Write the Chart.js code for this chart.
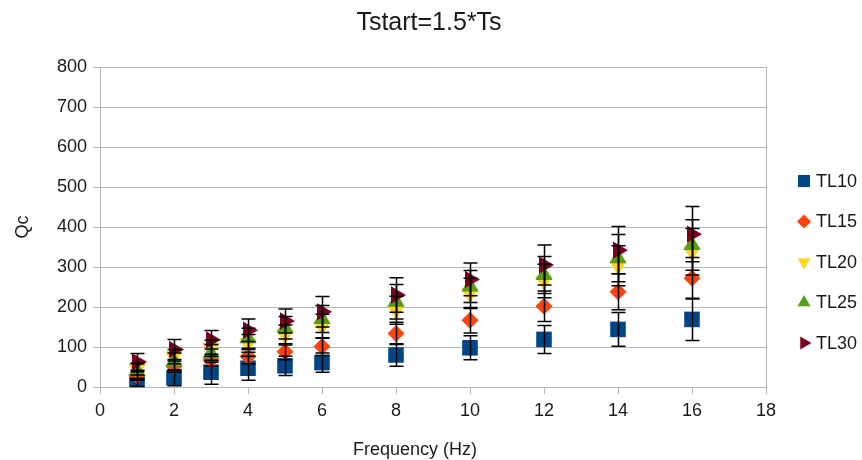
<!DOCTYPE html>
<html>
<head>
<meta charset="utf-8">
<script src="https://cdn.jsdelivr.net/npm/chart.js@4.4.1/dist/chart.umd.min.js"></script>
<style>
  html, body { margin: 0; padding: 0; background: #fff; }
  #wrap { width: 862px; height: 460px; }
</style>
</head>
<body>
<div id="wrap"><canvas id="qcChart" width="862" height="460"></canvas></div>
<script>
const freq = [1, 2, 3, 4, 5, 6, 8, 10, 12, 14, 16];

const tl10 = [9, 23, 37, 47, 53, 61, 80, 98, 119, 144, 169];
const tl15 = [28, 51, 67, 76, 88, 101, 134, 167, 202, 238, 272];
const tl20 = [45, 76, 97, 109, 130, 152, 192, 234, 265, 303, 338];
const tl25 = [40, 63, 84, 122, 148, 170, 213, 251, 280, 322, 355];
const tl30 = [63, 94, 118, 142, 165, 188, 230, 269, 305, 342, 382];

// +/- error for each point
const tl10Err = [8, 20, 30, 30, 24, 24, 28, 30, 35, 42, 53];
const tl15Err = [10, 14, 15, 18, 20, 22, 28, 32, 38, 45, 52];
const tl20Err = [15, 18, 20, 22, 25, 30, 35, 38, 42, 50, 58];
const tl25Err = [18, 22, 22, 25, 28, 34, 43, 40, 46, 59, 63];
const tl30Err = [21, 25, 23, 28, 30, 38, 43, 41, 50, 59, 69];

const seriesNames = ["TL10", "TL15", "TL20", "TL25", "TL30"];
const yTicks = [0, 100, 200, 300, 400, 500, 600, 700, 800];
const xTicks = [0, 2, 4, 6, 8, 10, 12, 14, 16, 18];

const FONT = "'Liberation Sans', Arial, sans-serif";
const TEXT = "#1a1a1a";
const GRID = "#b3b3b3";

const styles = [
  { color: "#004586", pointStyle: "rect", rotation: 0, radius: 11, legendRadius: 8.5 },
  { color: "#ff420e", pointStyle: "rectRot", rotation: 0, radius: 8.5, legendRadius: 7 },
  { color: "#ffd320", pointStyle: "triangle", rotation: 180, radius: 10, legendRadius: 7.5 },
  { color: "#579d1c", pointStyle: "triangle", rotation: 0, radius: 10, legendRadius: 7.5 },
  { color: "#7e0021", pointStyle: "triangle", rotation: 90, radius: 10, legendRadius: 7.5 },
];

const values = [tl10, tl15, tl20, tl25, tl30];
const errors = [tl10Err, tl15Err, tl20Err, tl25Err, tl30Err];

const datasets = values.map((vals, i) => ({
  label: seriesNames[i],
  data: vals.map((v, j) => ({ x: freq[j], y: v })),
  backgroundColor: styles[i].color,
  borderColor: styles[i].color,
  pointStyle: styles[i].pointStyle,
  rotation: styles[i].rotation,
  pointRadius: styles[i].radius,
  pointBorderWidth: 0,
  showLine: false,
  order: seriesNames.length - i,
  errors: errors[i],
}));

// error bars, title, axis titles and legend
const extras = {
  id: "extras",
  afterDatasetsDraw(chart) {
    const ctx = chart.ctx;
    const xs = chart.scales.x;
    const ys = chart.scales.y;
    ctx.save();
    ctx.strokeStyle = "#000";
    ctx.lineWidth = 1.5;
    chart.data.datasets.forEach((ds) => {
      ds.data.forEach((p, j) => {
        const err = ds.errors[j];
        const x = Math.round(xs.getPixelForValue(p.x)) + 0.5;
        const yTop = ys.getPixelForValue(p.y + err);
        const yBot = ys.getPixelForValue(Math.max(p.y - err, 0));
        ctx.beginPath();
        ctx.moveTo(x, yTop);
        ctx.lineTo(x, yBot);
        ctx.moveTo(x - 7, yTop);
        ctx.lineTo(x + 7, yTop);
        ctx.moveTo(x - 7, yBot);
        ctx.lineTo(x + 7, yBot);
        ctx.stroke();
      });
    });
    ctx.restore();
  },
  afterDraw(chart) {
    const ctx = chart.ctx;
    ctx.save();
    ctx.fillStyle = TEXT;
    ctx.textBaseline = "middle";

    ctx.font = "25px " + FONT;
    ctx.textAlign = "center";
    ctx.fillText("Tstart=1.5*Ts", 429, 23);

    ctx.font = "18px " + FONT;
    ctx.fillText("Frequency (Hz)", 415, 450);

    ctx.save();
    ctx.translate(23, 227);
    ctx.rotate(-Math.PI / 2);
    ctx.fillText("Qc", 0, 0);
    ctx.restore();

    ctx.textAlign = "left";
    seriesNames.forEach((name, i) => {
      const y = 181 + i * 40.5;
      ctx.fillStyle = styles[i].color;
      Chart.helpers.drawPoint(ctx, {
        pointStyle: styles[i].pointStyle,
        rotation: styles[i].rotation,
        radius: styles[i].legendRadius,
        borderWidth: 0,
      }, 804, y);
      ctx.fillStyle = TEXT;
      ctx.fillText(name, 816, y + 1);
    });
    ctx.restore();
  },
};

new Chart(document.getElementById("qcChart").getContext("2d"), {
  type: "scatter",
  data: { datasets },
  options: {
    responsive: false,
    animation: false,
    layout: { padding: { top: 67, right: 96, left: 0, bottom: 0 } },
    plugins: {
      legend: { display: false },
      tooltip: { enabled: false },
      title: { display: false },
    },
    scales: {
      x: {
        type: "linear",
        min: 0,
        max: 18,
        afterFit: (scale) => { scale.height = 73; },
        afterBuildTicks: (scale) => { scale.ticks = xTicks.map((v) => ({ value: v })); },
        ticks: { font: { family: FONT, size: 18 }, color: TEXT, padding: 6, maxRotation: 0 },
        grid: {
          color: (c) => (c.tick && c.tick.value === 18 ? GRID : "rgba(0,0,0,0)"),
          tickColor: GRID,
          tickLength: 7,
          lineWidth: 1,
        },
        border: { display: true, color: GRID },
      },
      y: {
        type: "linear",
        min: 0,
        max: 800,
        afterFit: (scale) => { scale.width = 100; },
        afterBuildTicks: (scale) => { scale.ticks = yTicks.map((v) => ({ value: v })); },
        ticks: { font: { family: FONT, size: 18 }, color: TEXT, padding: 6 },
        grid: { color: GRID, tickColor: GRID, tickLength: 7, lineWidth: 1 },
        border: { display: true, color: GRID },
      },
    },
  },
  plugins: [extras],
});
</script>
</body>
</html>
